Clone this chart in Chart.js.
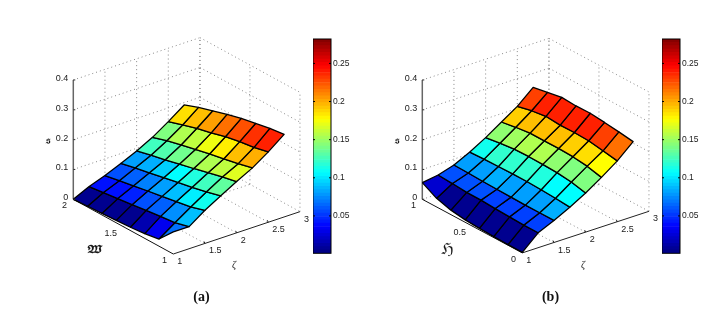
<!DOCTYPE html>
<html><head><meta charset="utf-8">
<script src="https://cdn.jsdelivr.net/npm/chart.js@4"></script>
<style>html,body{margin:0;padding:0;background:#fff}
#wrap{position:relative;width:727px;height:310px;overflow:hidden}
canvas{position:absolute;display:block}</style></head>
<body><div id="wrap">
<canvas id="main" width="727" height="310" style="left:0;top:0"></canvas>
<canvas id="barA" width="60" height="235" style="left:313px;top:30px"></canvas>
<canvas id="barB" width="60" height="235" style="left:662px;top:30px"></canvas>
</div>
<script>
// ---------- data ----------
const zetaGrid = [1, 1.25, 1.5, 1.75, 2, 2.25, 2.5, 2.75];
const wGrid = [2, 1.857, 1.714, 1.571, 1.429, 1.286, 1.143, 1];
const hGrid = [1, 0.857, 0.714, 0.571, 0.429, 0.286, 0.143, 0];
const surfaceA = [
 [0.000,0.003,0.005,0.008,0.011,0.016,0.024,0.074],
 [0.025,0.031,0.037,0.043,0.050,0.056,0.061,0.074],
 [0.044,0.053,0.062,0.071,0.079,0.088,0.096,0.111],
 [0.067,0.078,0.088,0.098,0.108,0.118,0.129,0.142],
 [0.091,0.103,0.114,0.126,0.137,0.149,0.161,0.172],
 [0.119,0.134,0.146,0.157,0.168,0.178,0.188,0.200],
 [0.154,0.169,0.184,0.195,0.208,0.218,0.225,0.236],
 [0.192,0.210,0.225,0.239,0.252,0.261,0.271,0.277]];
const surfaceB = [
 [0.056,0.029,0.015,0.008,0.005,0.003,0.002,0.002],
 [0.064,0.061,0.057,0.057,0.054,0.052,0.050,0.050],
 [0.080,0.079,0.077,0.076,0.075,0.074,0.074,0.074],
 [0.106,0.108,0.109,0.110,0.110,0.108,0.105,0.101],
 [0.137,0.144,0.150,0.151,0.150,0.148,0.142,0.131],
 [0.172,0.180,0.186,0.186,0.186,0.184,0.178,0.166],
 [0.207,0.218,0.225,0.221,0.222,0.220,0.212,0.204],
 [0.253,0.262,0.271,0.268,0.269,0.264,0.258,0.251]];
const cellsA = [
 [0.005,0.004,0.004,0.005,0.012,0.030,0.068],
 [0.039,0.042,0.047,0.056,0.064,0.077,0.088],
 [0.057,0.063,0.071,0.080,0.090,0.101,0.110],
 [0.078,0.085,0.095,0.105,0.113,0.123,0.133],
 [0.123,0.127,0.137,0.144,0.153,0.161,0.168],
 [0.142,0.153,0.160,0.171,0.180,0.192,0.200],
 [0.184,0.195,0.203,0.217,0.224,0.233,0.237]];
const cellsB = [
 [0.022,0.005,0.004,0.004,0.004,0.004,0.005],
 [0.057,0.060,0.057,0.054,0.053,0.052,0.052],
 [0.080,0.082,0.084,0.082,0.081,0.082,0.084],
 [0.112,0.118,0.119,0.118,0.113,0.108,0.105],
 [0.144,0.151,0.154,0.153,0.147,0.141,0.140],
 [0.189,0.192,0.195,0.194,0.191,0.184,0.178],
 [0.228,0.236,0.238,0.238,0.237,0.228,0.217]];
const zTicks = [0, 0.1, 0.2, 0.3, 0.4];
const zetaTicks = [1, 1.5, 2, 2.5, 3];
const wTicks = [2, 1.5, 1];
const hTicks = [1, 0.5, 0];
const colorTicks = [0.05, 0.1, 0.15, 0.2, 0.25];
const colorRange = [0.001, 0.282];

// ---------- layout ----------
const panelA = {ox:73.3, oy:199.3, zx:63.33, zy:21.17, ux:100, uy:54.7, sy:298.3,
  rowVals:wGrid, uTicks:wTicks, uStart:2, uEnd:1, surf:surfaceA, cells:cellsA,
  uLabel:'\u{1D582}', uFont:'bold 10.5px', uLabelPos:[95,250], sLabelPos:[48,140], zetaPos:[234,265], cap:'(a)', capPos:[201.5,297]};
const panelB = {ox:422.3, oy:199.3, zx:63.33, zy:20.8, ux:100, uy:53.6, sy:298.3,
  rowVals:hGrid, uTicks:hTicks, uStart:1, uEnd:0, surf:surfaceB, cells:cellsB,
  uLabel:'\u210C', uFont:'15px', uLabelPos:[447,250], sLabelPos:[397,140], zetaPos:[583,265], cap:'(b)', capPos:[550.5,297]};

function project(p, zeta, uVal, s){
  const u = (uVal - p.uStart)/(p.uEnd - p.uStart);
  return {x: p.ox + (zeta-1)*p.zx + u*p.ux, y: p.oy - (zeta-1)*p.zy + u*p.uy - s*p.sy};
}
function jet(f){
  const c = v => Math.round(255*Math.max(0,Math.min(1,v)));
  return `rgb(${c(Math.min(4*f-1.5,-4*f+4.5))},${c(Math.min(4*f-0.5,-4*f+3.5))},${c(Math.min(4*f+0.5,-4*f+2.5))})`;
}
const valueColor = v => jet(Math.floor((v-colorRange[0])/(colorRange[1]-colorRange[0])*64+0.5)/64);

function lineSet(pts, color, width, dash, order){
  return {data:pts, showLine:true, fill:false, pointRadius:0, borderColor:color, borderWidth:width, borderDash:dash, order, tension:0, borderCapStyle:'butt'};
}
function buildPanel(p){
  const out = [];
  const grid = (a,b)=>out.push(lineSet([a,b],'#888',1,[1,3],30));
  const zTop = zTicks[zTicks.length-1];
  const [zMax,zetaMin] = [3,1];
  for(const z of zetaTicks){
    if(z>1) grid(project(p,z,p.uStart,0),project(p,z,p.uStart,zTop));
    if(z>1) grid(project(p,z,p.uStart,0),project(p,z,p.uEnd,0));
  }
  for(const u of p.uTicks){
    grid(project(p,zMax,u,0),project(p,zMax,u,zTop));
    if(u!==p.uEnd) grid(project(p,zetaMin,u,0),project(p,zMax,u,0));
  }
  for(const s of zTicks){
    if(s>0){ grid(project(p,zetaMin,p.uStart,s),project(p,zMax,p.uStart,s));
             grid(project(p,zMax,p.uStart,s),project(p,zMax,p.uEnd,s)); }
  }
  out.push(lineSet([project(p,1,p.uStart,0),project(p,1,p.uEnd,0)],'#111',1,[],20));
  out.push(lineSet([project(p,1,p.uEnd,0),project(p,3,p.uEnd,0)],'#222',1,[],20));
  out.push(lineSet([project(p,1,p.uStart,0),project(p,1,p.uStart,zTop)],'#666',1.5,[],20));
  for(let i=0;i<7;i++) for(let j=0;j<7;j++){
    const v=(a,b)=>project(p,zetaGrid[a],p.rowVals[b],p.surf[a][b]);
    out.push({data:[v(i,j),v(i+1,j),v(i+1,j+1),v(i,j+1),v(i,j)], showLine:true, fill:'shape', pointRadius:0,
      backgroundColor:valueColor(p.cells[i][j]), borderColor:'#000', borderWidth:1.3, tension:0,
      borderJoinStyle:'round', order:10-i});
  }
  return out;
}
const axisFont = '9px "Liberation Sans"';
const mathFamily = '"DejaVu Math TeX Gyre","DejaVu Sans","Noto Sans"';
const textPlugin = {id:'axisText', afterDatasetsDraw(c){
  const ctx=c.ctx, X=c.scales.x, Y=c.scales.y;
  const put=(t,px,py,al,font,col)=>{ctx.font=font||axisFont;ctx.textAlign=al;ctx.textBaseline='middle';ctx.fillStyle=col||'#1a1a1a';ctx.fillText(t,X.getPixelForValue(px),Y.getPixelForValue(py));};
  for(const p of [panelA,panelB]){
    for(const s of zTicks){const q=project(p,1,p.uStart,s);put(String(s),q.x-5,q.y-1.5,'right');
      ctx.strokeStyle='#333';ctx.lineWidth=1;ctx.beginPath();ctx.moveTo(q.x,q.y);ctx.lineTo(q.x+2,q.y);ctx.stroke();}
    for(const u of p.uTicks){const q=project(p,1,u,0);put(String(u),q.x-6.3,q.y+6.5,'right');}
    for(const z of zetaTicks){const q=project(p,z,p.uEnd,0);put(String(z),q.x+4,q.y+7.6,'left');
      if(z>1&&z<3){ctx.strokeStyle='#222';ctx.lineWidth=1;ctx.beginPath();ctx.moveTo(q.x,q.y);ctx.lineTo(q.x-1,q.y-2);ctx.stroke();}}
    put('\u{1D598}',p.sLabelPos[0],p.sLabelPos[1],'center','9px '+mathFamily);
    put(p.uLabel,p.uLabelPos[0],p.uLabelPos[1],'center',p.uFont+' '+mathFamily);
    put('\u03B6',p.zetaPos[0],p.zetaPos[1],'center','italic 10px "Liberation Serif"');
    put(p.cap,p.capPos[0],p.capPos[1],'center','bold 14px "Liberation Serif"','#111');
  }
}};
new Chart(document.getElementById('main'),{
  type:'scatter',
  data:{datasets:[...buildPanel(panelA),...buildPanel(panelB)]},
  options:{responsive:false,animation:false,layout:{padding:0},
    plugins:{legend:{display:false},tooltip:{enabled:false}},
    scales:{x:{type:'linear',min:0,max:727,display:false},y:{type:'linear',min:0,max:310,reverse:true,display:false}}},
  plugins:[textPlugin]
});
function colorBar(id){
  const n=64, ds=[], [lo,hi]=colorRange;
  for(let k=0;k<n;k++){
    const a=lo+(hi-lo)*k/n,b=lo+(hi-lo)*(k+1)/n;
    ds.push({data:[[a,b]],backgroundColor:jet((k+0.5)/n),borderWidth:0,barPercentage:1,categoryPercentage:1,grouped:false});
  }
  new Chart(document.getElementById(id),{
    type:'bar',
    data:{labels:[''],datasets:ds},
    options:{responsive:false,animation:false,layout:{padding:{top:9,bottom:11.7}},
      plugins:{legend:{display:false},tooltip:{enabled:false}},
      scales:{x:{display:false},
        y:{min:lo,max:hi,position:'right',
           afterBuildTicks(a){a.ticks=colorTicks.map(v=>({value:v}));},
           afterFit(a){a.width=42;},
           grid:{display:false,drawTicks:false,tickLength:0},border:{display:false},
           ticks:{padding:2,color:'#1a1a1a',font:{family:'Liberation Sans',size:8.5},callback:v=>String(v)}}}},
    plugins:[{id:'frame',afterDraw(c){
      const {left,right,top,bottom}=c.chartArea, x=c.ctx, Y=c.scales.y;
      x.strokeStyle='#000';x.lineWidth=1;x.strokeRect(left,top,right-left,bottom-top);
      for(const v of colorTicks){const p=Y.getPixelForValue(v);x.beginPath();x.moveTo(left,p);x.lineTo(left+2,p);x.moveTo(right,p);x.lineTo(right-2,p);x.stroke();}
    }}]
  });
}
colorBar('barA');colorBar('barB');
</script></body></html>
